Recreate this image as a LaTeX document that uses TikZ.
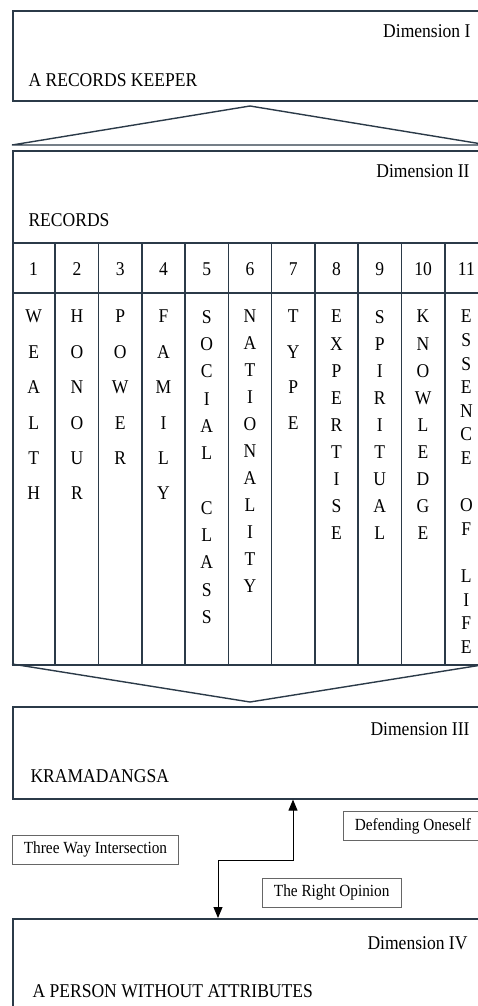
\documentclass[tikz,border=0pt]{standalone}
\usepackage{fontspec}
\setmainfont{Liberation Serif}[FakeStretch=0.9]
\usetikzlibrary{arrows.meta}
\definecolor{borde}{HTML}{2B3A48}

\begin{document}
\begin{tikzpicture}[x=1pt, y=-1pt,
    dimbox/.style={draw=borde, line width=1.6pt, anchor=north west, minimum width=476pt, inner sep=0pt},
    dimnum/.style={anchor=base east, font=\fontsize{19.5}{22}\selectfont},
    dimnombre/.style={anchor=base west, font=\fontsize{19.5}{22}\selectfont},
    rejilla/.style={draw=borde, line width=1.6pt},
    numero/.style={anchor=base, inner sep=0pt, font=\fontsize{19.5}{22}\selectfont},
    letras/.style={anchor=north, align=center, inner sep=0pt, font=\fontsize{19.5}{#1}\selectfont},
    etiqueta/.style={draw=gray!80!black, line width=0.8pt, anchor=west, minimum height=29pt, inner xsep=11.5pt, inner ysep=0pt, font=\fontsize{17}{19}\selectfont},
    flecha/.style={line width=0.9pt, {Triangle[length=11pt,width=9pt]}-{Triangle[length=11pt,width=9pt]}}]
        \useasboundingbox (0,0) rectangle (478,1006);
        \clip (0,0) rectangle (478,1006);
        % Dimension I
        \node[dimbox, minimum height=90pt] (dimuno) at (12,10) {};
        \node[dimnum] (nomuno) at (474,38) {Dimension I};
        \node[dimnombre] (txtuno) at (25,87) {A RECORDS KEEPER};
        % Triangulo hacia arriba
        \draw[borde, line width=1.4pt] (12,145) -- (250,106) -- (488,145) -- cycle;
        % Dimension II con la tabla
        \node[dimbox, minimum height=514pt] (dimdos) at (12,150) {};
        \node[dimnum] (nomdos) at (473,177) {Dimension II};
        \node[dimnombre] (txtdos) at (25,226) {RECORDS};
        \draw[rejilla] (12,243) -- (488,243);
        \draw[rejilla] (12,293) -- (488,293);
        \foreach \i in {1,...,10}
            \draw[rejilla] ({12+43.27*\i},243) -- ({12+43.27*\i},664);
        \foreach \i in {1,...,11}
            \node[numero] (num\i) at ({12+43.27*(\i-0.5)},275) {\i};
        % Columnas de letras
        \node[letras=35.4] (col1) at ({12+43.27*0.5},310) {W\\E\\A\\L\\T\\H};
        \node[letras=35.4] (col2) at ({12+43.27*1.5},310) {H\\O\\N\\O\\U\\R};
        \node[letras=35.4] (col3) at ({12+43.27*2.5},310) {P\\O\\W\\E\\R};
        \node[letras=35.4] (col4) at ({12+43.27*3.5},310) {F\\A\\M\\I\\L\\Y};
        \node[letras=27.3] (col5) at ({12+43.27*4.5},310) {S\\O\\C\\I\\A\\L\\\mbox{}\\C\\L\\A\\S\\S};
        \node[letras=27.0] (col6) at ({12+43.27*5.5},310) {N\\A\\T\\I\\O\\N\\A\\L\\I\\T\\Y};
        \node[letras=35.4] (col7) at ({12+43.27*6.5},310) {T\\Y\\P\\E};
        \node[letras=27.1] (col8) at ({12+43.27*7.5},310) {E\\X\\P\\E\\R\\T\\I\\S\\E};
        \node[letras=27.1] (col9) at ({12+43.27*8.5},310) {S\\P\\I\\R\\I\\T\\U\\A\\L};
        \node[letras=27.1] (col10) at ({12+43.27*9.5},310) {K\\N\\O\\W\\L\\E\\D\\G\\E};
        \node[letras=23.6] (col11) at ({12+43.27*10.5},310) {E\\S\\S\\E\\N\\C\\E\\\mbox{}\\O\\F\\\mbox{}\\L\\I\\F\\E};
        % Triangulo hacia abajo
        \draw[borde, line width=1.4pt] (12,664) -- (250,702) -- (488,664);
        % Dimension III
        \node[dimbox, minimum height=92pt] (dimtres) at (12,706) {};
        \node[dimnum] (nomtres) at (473,735) {Dimension III};
        \node[dimnombre] (txttres) at (27,782) {KRAMADANGSA};
        % Etiquetas
        \node[etiqueta] (defensa) at (343,826) {Defending Oneself};
        \node[etiqueta] (cruce) at (12,849.5) {Three Way Intersection};
        \node[etiqueta] (opinion) at (262,892.5) {The Right Opinion};
        % Flecha entre III y IV
        \coordinate (codoA) at (293,860);
        \coordinate (codoB) at (218,860);
        % Dimension IV
        \node[dimbox, minimum height=100pt] (dimcuatro) at (12,918) {};
        \node[dimnum] (nomcuatro) at (471,949) {Dimension IV};
        \node[dimnombre] (txtcuatro) at (29,997) {A PERSON WITHOUT ATTRIBUTES};
        \draw[flecha] (codoA |- dimtres.south) -- (codoA) -- (codoB) -- (codoB |- dimcuatro.north);
\end{tikzpicture}
\end{document}
